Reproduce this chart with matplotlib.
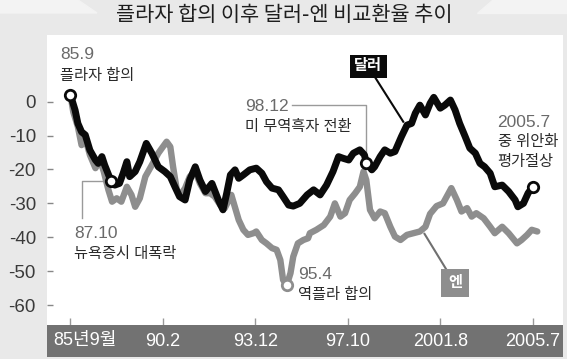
import matplotlib
matplotlib.use("Agg")
import matplotlib.pyplot as plt
from matplotlib.patches import Polygon

plt.rcParams['font.family'] = ['Liberation Sans', 'Noto Sans CJK KR']
plt.rcParams['axes.unicode_minus'] = False

# 데이터 (x: 눈금 위치 단위, 0=85년9월 ... 5=2005.7 / y: 변화율 %)
tick_labels = ["85년9월", "90.2", "93.12", "97.10", "2001.8", "2005.7"]
y_ticks = [0, -10, -20, -30, -40, -50, -60]

dollar_x = [0.00, 0.05, 0.08, 0.12, 0.16, 0.21, 0.27, 0.30, 0.34, 0.37, 0.44,
            0.48, 0.53, 0.57, 0.61, 0.64, 0.70, 0.75, 0.82, 0.88, 0.95, 1.02,
            1.08, 1.13, 1.18, 1.24, 1.29, 1.35, 1.40, 1.46, 1.53, 1.60, 1.65,
            1.69, 1.73, 1.78, 1.82, 1.87, 1.94, 2.01, 2.07, 2.12, 2.18, 2.25,
            2.30, 2.36, 2.41, 2.48, 2.56, 2.63, 2.70, 2.77, 2.84, 2.90, 2.95,
            3.01, 3.06, 3.13, 3.18, 3.20, 3.26, 3.29, 3.35, 3.40, 3.46, 3.51,
            3.58, 3.64, 3.69, 3.73, 3.78, 3.84, 3.89, 3.93, 4.00, 4.05, 4.11,
            4.16, 4.21, 4.27, 4.32, 4.38, 4.43, 4.48, 4.54, 4.59, 4.67, 4.74,
            4.81, 4.84, 4.90, 4.95, 5.00]
dollar_y = [2.0, -2.5, -6.4, -8.9, -9.8, -14.3, -17.2, -18.2, -16.2, -18.7, -23.5,
            -24.6, -24.1, -21.1, -17.7, -22.1, -20.6, -17.7, -12.3, -15.2, -19.2, -20.6,
            -22.1, -25.1, -28.0, -29.0, -23.1, -19.2, -23.1, -26.5, -24.1, -29.0, -31.9,
            -27.0, -21.6, -20.1, -22.6, -21.6, -20.1, -19.6, -21.1, -23.6, -25.5, -26.0,
            -28.0, -30.5, -30.8, -30.0, -27.5, -26.0, -27.5, -24.6, -20.6, -16.2, -16.7,
            -17.2, -15.2, -14.2, -15.7, -18.0, -20.1, -19.2, -16.2, -14.2, -15.2, -14.7,
            -10.3, -6.9, -6.4, -3.4, -1.0, -3.9, -0.5, 1.3, -1.9, -1.0, 0.5,
            -2.4, -6.4, -10.3, -13.7, -15.2, -18.2, -19.2, -21.1, -25.1, -24.6, -26.5,
            -29.0, -31.0, -30.0, -27.0, -25.1]

yen_x = [0.00, 0.03, 0.08, 0.12, 0.16, 0.21, 0.27, 0.32, 0.36, 0.41, 0.45,
         0.50, 0.55, 0.61, 0.66, 0.70, 0.75, 0.81, 0.88, 0.95, 1.00, 1.04,
         1.08, 1.11, 1.15, 1.19, 1.24, 1.29, 1.35, 1.40, 1.46, 1.51, 1.56,
         1.62, 1.67, 1.74, 1.82, 1.87, 1.92, 1.98, 2.01, 2.07, 2.12, 2.18,
         2.23, 2.27, 2.30, 2.34, 2.38, 2.41, 2.46, 2.52, 2.57, 2.59, 2.66,
         2.74, 2.81, 2.86, 2.92, 2.97, 3.02, 3.08, 3.13, 3.17, 3.20, 3.24,
         3.29, 3.35, 3.40, 3.46, 3.51, 3.57, 3.64, 3.71, 3.78, 3.84, 3.89,
         3.96, 4.03, 4.12, 4.18, 4.23, 4.29, 4.34, 4.39, 4.47, 4.54, 4.59,
         4.67, 4.74, 4.83, 4.88, 4.94, 4.99, 5.05]
yen_y = [2.0, -3.0, -7.4, -12.8, -10.8, -15.7, -19.6, -17.2, -20.6, -26.0, -29.5,
         -28.5, -29.5, -25.1, -27.5, -31.0, -28.5, -22.1, -18.7, -15.2, -13.3, -11.8,
         -13.3, -19.2, -26.0, -27.5, -25.5, -22.1, -20.6, -24.1, -27.0, -27.0, -28.0,
         -30.5, -31.4, -27.5, -34.9, -37.8, -39.3, -38.8, -38.3, -40.8, -41.8, -43.2,
         -43.7, -46.7, -52.6, -54.1, -50.6, -45.7, -41.8, -40.8, -40.3, -38.8, -37.8,
         -36.4, -33.9, -30.0, -33.9, -32.9, -29.0, -27.0, -25.1, -20.6, -23.1, -31.9,
         -34.4, -32.4, -32.9, -36.9, -39.8, -40.8, -39.3, -38.8, -38.3, -36.9, -33.1,
         -30.8, -30.0, -25.5, -29.0, -32.4, -31.4, -33.9, -32.9, -34.4, -36.9, -38.8,
         -36.9, -38.8, -41.8, -40.8, -39.3, -37.8, -38.3]

# 주요 시점 (데이터 인덱스)
dollar_events = [0, 10, 59, len(dollar_x) - 1]   # 85.9, 87.10, 98.12, 2005.7
yen_event = 47                                   # 95.4

BLACK = "#0a0a0a"
GRAY = "#8e8e8e"
TXT_NUM = "#6a6a6a"
TXT_KR = "#2a2a2a"

fig = plt.figure(figsize=(5.67, 3.59), dpi=100)
fig.patch.set_facecolor("#e9e9e9")

# 상단 리본 장식
fig.patches.append(Polygon([(0, 1), (78/567, 1), (97/567, 1-13/359), (0, 1-13/359)],
                           closed=True, transform=fig.transFigure, color="#f3f3f3", zorder=0))
fig.patches.append(Polygon([(492/567, 1), (1, 1), (1, 1-13/359), (477/567, 1-13/359)],
                           closed=True, transform=fig.transFigure, color="#f3f3f3", zorder=0))

fig.text(0.502, 1 - 15/359, "플라자 합의 이후 달러-엔 비교환율 추이",
         ha="center", va="center", fontsize=15, color="#1e1e1e",
         family="Noto Sans CJK KR")

ax = fig.add_axes([47/567, 34/359, 516/567, 290/359])
ax.set_facecolor("white")
for s in ax.spines.values():
    s.set_visible(False)

ax.plot(yen_x, yen_y, color=GRAY, lw=4.6, solid_joinstyle="round",
        solid_capstyle="round", zorder=2)
ax.plot(dollar_x, dollar_y, color=BLACK, lw=5.0, solid_joinstyle="round",
        solid_capstyle="round", zorder=3)

ax.plot([dollar_x[i] for i in dollar_events], [dollar_y[i] for i in dollar_events],
        ls="none", marker="o", ms=7.5, mfc="white", mec=BLACK, mew=2, zorder=5)
ax.plot([yen_x[yen_event]], [yen_y[yen_event]], ls="none", marker="o", ms=7.5,
        mfc="white", mec=GRAY, mew=2, zorder=5)

ax.set_xlim(-0.254, 5.328)
ax.set_ylim(-65.9, 19.7)
ax.set_yticks(y_ticks)
ax.set_yticklabels([str(v) for v in y_ticks])
ax.set_xticks(range(len(tick_labels)))
ax.set_xticklabels([])
ax.tick_params(axis="y", direction="in", length=4, width=1, color="#888888",
               pad=8, labelsize=13.5, labelcolor="#3a3a3a")
ax.tick_params(axis="x", direction="in", length=5, width=1, color="#999999")

# 주석
lc = "#9a9a9a"
ax.text(-0.114, 13.8, "85.9", fontsize=12.5, color=TXT_NUM, va="center")
ax.text(-0.114, 7.6, "플라자 합의", fontsize=11, color=TXT_KR, va="center")

x1, y1 = dollar_x[dollar_events[1]], dollar_y[dollar_events[1]]
ax.plot([x1 - 0.06, 0.124, 0.124], [y1, y1, -34.4], color=lc, lw=1, zorder=1)
ax.text(0.04, -38.8, "87.10", fontsize=12.5, color=TXT_NUM, va="center")
ax.text(0.04, -44.9, "뉴욕증시 대폭락", fontsize=11, color=TXT_KR, va="center")

x2, y2 = dollar_x[dollar_events[2]], dollar_y[dollar_events[2]]
ax.plot([2.40, x2, x2], [-1.0, -1.0, y2 + 1.5], color=lc, lw=1, zorder=1)
ax.text(1.89, -1.3, "98.12", fontsize=12.5, color=TXT_NUM, va="center")
ax.text(1.89, -7.5, "미 무역흑자 전환", fontsize=11, color=TXT_KR, va="center")

ax.text(2.46, -51.1, "95.4", fontsize=12.5, color=TXT_NUM, va="center")
ax.text(2.46, -57.0, "역플라 합의", fontsize=11, color=TXT_KR, va="center")

ax.text(4.62, -6.0, "2005.7", fontsize=12.5, color=TXT_NUM, va="center")
ax.text(4.62, -11.9, "중 위안화", fontsize=11, color=TXT_KR, va="center")
ax.text(4.62, -17.8, "평가절상", fontsize=11, color=TXT_KR, va="center")

# 범례 상자
ax.plot([3.30, 3.60], [7.0, -5.9], color=BLACK, lw=1.5, zorder=4)
ax.text(3.22, 10.5, "달러", fontsize=11, color="white", weight="bold",
        ha="center", va="center", zorder=6,
        bbox=dict(boxstyle="square,pad=0.3", fc=BLACK, ec="none"))
ax.plot([4.07, 3.83], [-49.7, -39.0], color="#707070", lw=1.5, zorder=4)
ax.text(4.16, -53.5, "엔", fontsize=11, color="white", weight="bold",
        ha="center", va="center", zorder=6,
        bbox=dict(boxstyle="square,pad=0.45", fc=GRAY, ec="none"))

# 하단 날짜 띠
band = fig.add_axes([47/567, 2/359, 516/567, 32/359], sharex=ax)
band.set_facecolor("#727272")
for s in band.spines.values():
    s.set_visible(False)
band.set_ylim(0, 1)
band.tick_params(left=False, bottom=False, labelleft=False, labelbottom=False)
for i, lab in enumerate(tick_labels):
    if i == 0:
        band.text(-0.19, 0.5, lab, ha="left", va="center", color="white", fontsize=13)
    else:
        band.text(i, 0.5, lab, ha="center", va="center", color="white", fontsize=13)

fig.savefig("out.png", dpi=100, facecolor=fig.get_facecolor())
